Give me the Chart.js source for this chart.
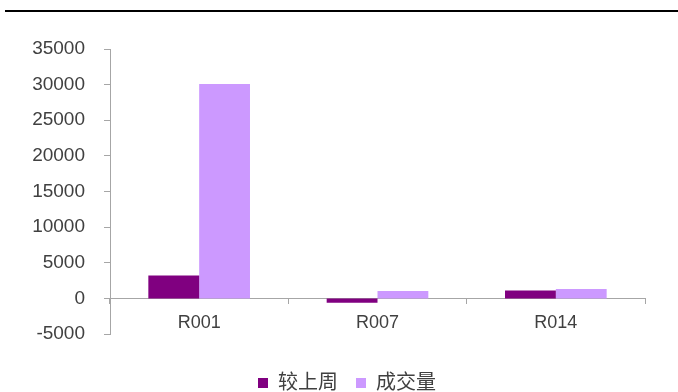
<!DOCTYPE html>
<html>
<head>
<meta charset="utf-8">
<script src="https://cdn.jsdelivr.net/npm/chart.js@4/dist/chart.umd.min.js"></script>
<style>
  html, body { margin: 0; padding: 0; background: #fff; }
  #wrap { position: relative; width: 678px; height: 392px; }
  #rule { position: absolute; left: 5px; right: 0; top: 10px; height: 2px; background: #000; }
  canvas { position: absolute; left: 0; top: 0; }
</style>
</head>
<body>
<div id="wrap">
  <div id="rule"></div>
  <canvas id="c" width="678" height="392"></canvas>
</div>
<script>
// Repo rates by tenor: change vs. last week and trading volume
const categories = ['R001', 'R007', 'R014'];
const weeklyChange = [3200, -600, 1100];
const volume = [30100, 1050, 1300];
const seriesNames = ['较上周', '成交量'];
const yTicks = { min: -5000, max: 35000, step: 5000 };

const axisColor = '#a6a6a6';
const textColor = '#404040';
const fontFamily = '"Liberation Sans", "Noto Sans CJK SC", sans-serif';

// invisible axis used only to reserve space
const spacer = (position, size) => ({
  type: position === 'bottom' ? 'category' : 'linear',
  position,
  grid: { display: false },
  border: { display: false },
  ticks: { display: false },
  afterFit(scale) {
    if (position === 'bottom') scale.height = size; else scale.width = size;
  }
});

new Chart(document.getElementById('c'), {
  type: 'bar',
  data: {
    labels: categories,
    datasets: [
      { label: seriesNames[0], data: weeklyChange, backgroundColor: '#800080' },
      { label: seriesNames[1], data: volume, backgroundColor: '#cc99ff' }
    ]
  },
  options: {
    responsive: false,
    animation: false,
    events: [],
    layout: { padding: { left: 16, right: 0, top: 49, bottom: -11 } },
    datasets: { bar: { categoryPercentage: 0.57, barPercentage: 1 } },
    scales: {
      x: {
        position: { y: 0 },
        grid: { offset: true, drawOnChartArea: false, drawTicks: true, tickLength: 5, color: axisColor },
        border: { color: axisColor, width: 1 },
        ticks: { color: textColor, padding: 9, font: { family: fontFamily, size: 18 } }
      },
      gapBottom: spacer('bottom', 21),
      gapRight: spacer('right', 33),
      y: {
        min: yTicks.min,
        max: yTicks.max,
        grid: { drawOnChartArea: false, drawTicks: true, tickLength: 6, color: axisColor },
        border: { color: axisColor, width: 1 },
        ticks: {
          stepSize: yTicks.step,
          color: textColor,
          padding: 19,
          font: { family: fontFamily, size: 19 },
          callback: (v) => String(v)
        },
        afterFit(scale) { scale.width = 94; }
      }
    },
    plugins: {
      tooltip: { enabled: false },
      legend: {
        position: 'bottom',
        labels: {
          boxWidth: 10,
          boxHeight: 10,
          padding: 18,
          color: textColor,
          font: { family: fontFamily, size: 20 }
        }
      }
    }
  }
});
</script>
</body>
</html>
